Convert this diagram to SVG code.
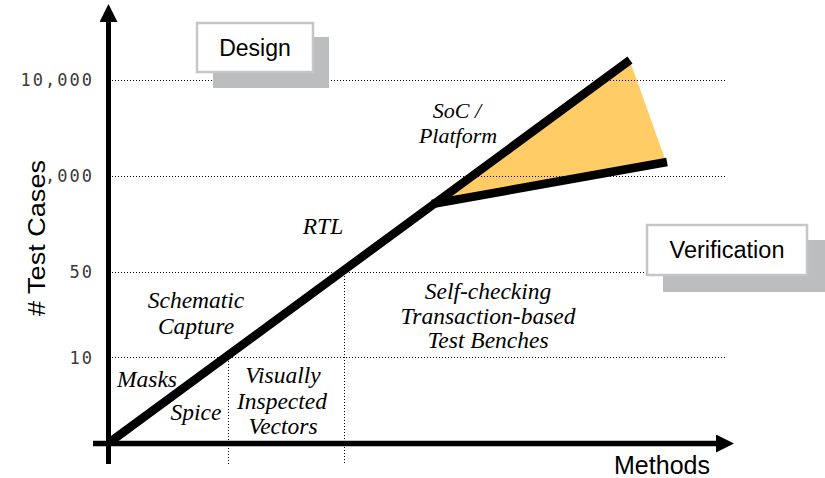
<svg xmlns="http://www.w3.org/2000/svg" width="825" height="478" viewBox="0 0 825 478">
<defs>
<style>
.grid{stroke:#000;stroke-width:1;stroke-dasharray:1 2;fill:none}
.tick{font-family:"DejaVu Sans Mono","Liberation Mono",monospace;font-size:17px;letter-spacing:2px;fill:#3a3a3a;text-anchor:end}
.lbl{font-family:"Liberation Serif","Times New Roman",serif;font-style:italic;font-size:23.5px;fill:#000;text-anchor:middle}
.sm{font-size:22px}
.sans{font-family:"Liberation Sans",Arial,sans-serif;fill:#000;text-anchor:middle}
.shadow{fill:#bcbdbf}
.box{fill:#fff;stroke:#c6c6c6;stroke-width:2.5}
.thick{stroke:#000;stroke-width:8.5;stroke-linecap:butt;fill:none}
</style>
<marker id="arr" viewBox="0 0 10 10" refX="0" refY="5" markerWidth="18" markerHeight="18" markerUnits="userSpaceOnUse" orient="auto">
<path d="M0,0 L10,5 L0,10 Z" fill="#000"/>
</marker>
</defs>
<rect width="825" height="478" fill="#fff"/>

<g id="wedge">
<polygon points="436,202 630,61 665,159" fill="#ffcc66"/>
</g>

<g id="grid">
<line class="grid" x1="112" y1="80.5" x2="727" y2="80.5"/>
<line class="grid" x1="112" y1="176.5" x2="727" y2="176.5"/>
<line class="grid" x1="112" y1="272.5" x2="727" y2="272.5"/>
<line class="grid" x1="112" y1="357.5" x2="727" y2="357.5"/>
<line class="grid" x1="228.5" y1="358" x2="228.5" y2="465"/>
<line class="grid" x1="344.5" y1="273" x2="344.5" y2="465"/>
</g>

<g id="ticks">
<text class="tick" x="94" y="86">10,000</text>
<text class="tick" x="94" y="182">1,000</text>
<text class="tick" x="94" y="278">50</text>
<text class="tick" x="94" y="364">10</text>
</g>

<g id="axes">
<line x1="108.5" y1="464" x2="108.5" y2="22" stroke="#000" stroke-width="5" marker-end="url(#arr)"/>
<line x1="93" y1="443.5" x2="716" y2="443.5" stroke="#000" stroke-width="5.5" marker-end="url(#arr)"/>
<rect x="8" y="157" width="38" height="163" fill="#fff"/>
<text class="sans" font-size="24" transform="translate(45,238) rotate(-90)" textLength="156" lengthAdjust="spacingAndGlyphs"># Test Cases</text>
<text class="sans" font-size="25" x="662" y="474">Methods</text>
</g>

<g id="connectors">
<line class="thick" x1="110" y1="442" x2="630" y2="60"/>
<line class="thick" x1="432" y1="204" x2="667" y2="162"/>
</g>

<g id="node-design">
<rect class="shadow" x="213" y="37" width="116" height="51"/>
<rect class="box" x="197" y="23" width="116" height="49"/>
<text class="sans" font-size="23" x="255" y="56">Design</text>
</g>

<g id="node-verification">
<rect class="shadow" x="663" y="240" width="170" height="52"/>
<rect class="box" x="647" y="225" width="160" height="50"/>
<text class="sans" font-size="23.5" x="727" y="258">Verification</text>
</g>

<g id="labels">
<text class="lbl sm" x="457" y="118">SoC /</text>
<text class="lbl sm" x="458" y="143">Platform</text>
<text class="lbl" x="323" y="234">RTL</text>
<text class="lbl" x="488" y="299">Self-checking</text>
<text class="lbl" x="488" y="324">Transaction-based</text>
<text class="lbl" x="488" y="348">Test Benches</text>
<text class="lbl" x="196" y="308">Schematic</text>
<text class="lbl" x="196" y="334">Capture</text>
<text class="lbl" x="147" y="387">Masks</text>
<text class="lbl" x="196" y="420">Spice</text>
<text class="lbl" x="283" y="383">Visually</text>
<text class="lbl" x="282" y="409">Inspected</text>
<text class="lbl" x="283" y="434">Vectors</text>
</g>
</svg>
